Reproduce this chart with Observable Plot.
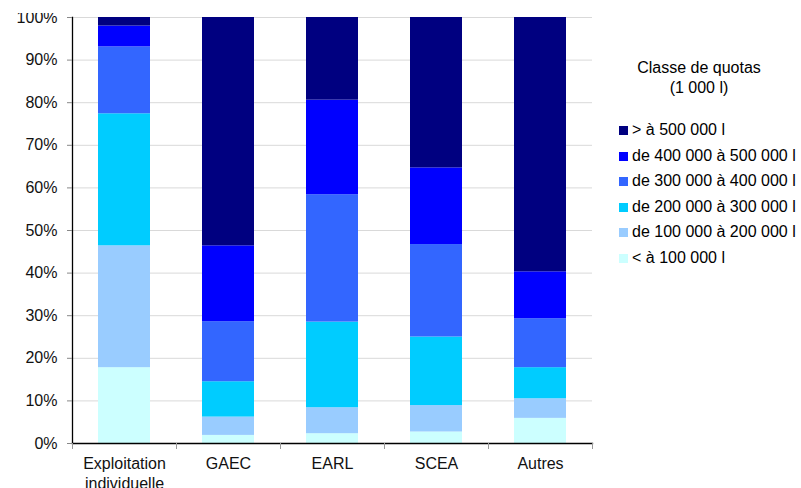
<!DOCTYPE html>
<html>
<head>
<meta charset="utf-8">
<script src="https://cdn.jsdelivr.net/npm/d3@7"></script>
<script src="https://cdn.jsdelivr.net/npm/@observablehq/plot@0.6"></script>
<style>
  html, body { margin: 0; padding: 0; background: #fff; }
  body { width: 801px; height: 488px; overflow: hidden; position: relative; font-family: "Liberation Sans", Arial, sans-serif; }
  #chart { position: absolute; left: 0; top: 13px; }
  #chart svg { overflow: hidden; }
  #legend { position: absolute; left: 610px; top: 58px; font-size: 16px; color: #000; }
  #legend .title { position: absolute; left: 0; width: 178px; text-align: center; line-height: 20px; white-space: nowrap; }
  #legend .item { position: absolute; left: 9px; white-space: nowrap; line-height: 18px; }
  #legend .sw { display: inline-block; width: 9px; height: 9px; margin-right: 4px; vertical-align: 0px; }
</style>
</head>
<body>
<div id="chart"></div>
<div id="legend"></div>
<script>
const categories = ["Exploitation individuelle", "GAEC", "EARL", "SCEA", "Autres"];
const categoryLabels = ["Exploitation\nindividuelle", "GAEC", "EARL", "SCEA", "Autres"];
const classes = ["< à 100 000 l", "de 100 000 à 200 000 l", "de 200 000 à 300 000 l", "de 300 000 à 400 000 l", "de 400 000 à 500 000 l", "> à 500 000 l"];
const colors = ["#CCFFFF", "#99CCFF", "#00CCFF", "#3366FF", "#0000FF", "#000080"];
const legendTitle = ["Classe de quotas", "(1 000 l)"];
const yTicks = [0, 10, 20, 30, 40, 50, 60, 70, 80, 90, 100];

// values (%) per class, one entry per category
const lt100   = [17.8, 1.9, 2.3, 2.7, 5.9];
const c100200 = [28.6, 4.3, 6.1, 6.2, 4.6];
const c200300 = [31.0, 8.3, 20.1, 16.1, 7.3];
const c300400 = [15.7, 14.1, 29.9, 21.7, 11.5];
const c400500 = [4.9, 17.8, 22.2, 18.0, 11.0];
const gt500   = [2.0, 53.6, 19.4, 35.3, 59.7];

const series = [lt100, c100200, c200300, c300400, c400500, gt500];
const rows = [];
categories.forEach((cat, i) => {
  classes.forEach((cls, j) => rows.push({cat, cls, value: series[j][i]}));
});

const labelOf = new Map(categories.map((c, i) => [c, categoryLabels[i]]));

const plot = Plot.plot({
  width: 801,
  height: 475,
  marginLeft: 72,
  marginRight: 209,
  marginTop: 4,
  marginBottom: 45,
  style: {fontFamily: '"Liberation Sans", Arial, sans-serif', fontSize: "16px", color: "#000", background: "transparent"},
  x: {domain: categories, paddingInner: 0.5, paddingOuter: 0.25, axis: null, label: null},
  y: {domain: [0, 100], axis: null, label: null},
  color: {domain: classes, range: colors},
  marks: [
    Plot.gridY(yTicks, {stroke: "#d9d9d9", strokeOpacity: 1}),
    Plot.barY(rows, Plot.stackY({x: "cat", y: "value", fill: "cls"})),
    Plot.frame({anchor: "left", stroke: "#000", strokeWidth: 1.3}),
    Plot.frame({anchor: "bottom", stroke: "#000", strokeWidth: 1.3}),
    Plot.axisY(yTicks, {label: null, tickSize: 5, tickPadding: 10, stroke: "#888", tickFormat: d => d + "%", fontSize: 16, fill: "#111"}),
    Plot.axisX({label: null, tickSize: 0, tickPadding: 11, tickFormat: d => labelOf.get(d), fontSize: 16, lineHeight: 1.25, fill: "#111"}),
    Plot.ruleX(categories, {x: d => d, dx: 52, y1: 0, y2: 0, insetBottom: -6, stroke: "#999"}),
    Plot.ruleX(categories.slice(0, 1), {x: d => d, dx: -52, y1: 0, y2: 0, insetBottom: -6, stroke: "#999"})
  ]
});
document.getElementById("chart").appendChild(plot);

// legend
const legend = document.getElementById("legend");
legendTitle.forEach((t, i) => {
  const d = document.createElement("div");
  d.className = "title";
  d.style.top = (i * 20) + "px";
  d.textContent = t;
  legend.appendChild(d);
});
classes.slice().reverse().forEach((cls, i) => {
  const d = document.createElement("div");
  d.className = "item";
  d.style.top = (63 + i * 25.6) + "px";
  const sw = document.createElement("span");
  sw.className = "sw";
  sw.style.background = colors[classes.indexOf(cls)];
  d.appendChild(sw);
  d.appendChild(document.createTextNode(cls));
  legend.appendChild(d);
});
</script>
</body>
</html>
